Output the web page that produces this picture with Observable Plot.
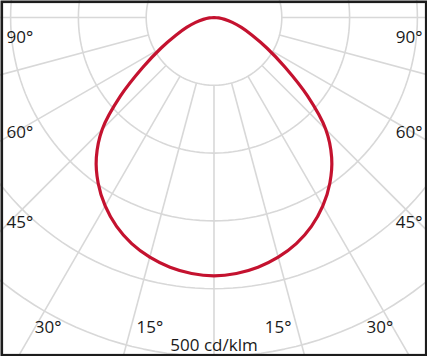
<!DOCTYPE html>
<html><head><meta charset="utf-8">
<script src="https://cdn.jsdelivr.net/npm/d3@7"></script>
<script src="https://cdn.jsdelivr.net/npm/@observablehq/plot@0.6"></script>
<style>
html,body{margin:0;padding:0;background:#fff;}
#chart svg{display:block;}
</style></head><body><div id="chart"></div>
<script>
// Luminous intensity distribution (cd/klm) by angle from nadir (symmetric)
const angles    = [0, 5, 10, 15, 20, 25, 30, 35, 40, 45, 50, 55, 60, 65, 70, 75, 80, 85, 90];
const intensity = [381, 379, 374, 366, 355, 340, 321, 298, 270, 233, 180, 128, 90, 62, 43, 28, 16, 7, 0];
const ringValues = [100, 200, 300, 400, 500, 600];
const rayAngles = [-90, -75, -60, -45, -30, -15, 0, 15, 30, 45, 60, 75, 90];
const sideLabelAngles = [90, 60, 45];
const bottomLabelAngles = [30, 15];
const unitLabel = "500 cd/klm";

const W = 427, H = 356;
const K = 0.678;           // pixels per cd/klm
const cx = 213.5, cy = 17; // pole position
const rad = d => d * Math.PI / 180;

// curve table (mirrored)
const curve = [];
for (let i = angles.length - 1; i >= 0; i--) curve.push({a: -angles[i], r: intensity[i]});
for (let i = 1; i < angles.length; i++) curve.push({a: angles[i], r: intensity[i]});

// grid
const rings = ringValues.flatMap(r => d3.range(0, 361, 2).map(t => ({r, t})));
const rays = rayAngles.map(a => ({a, r1: ringValues[0], r2: 700}));

// labels
const deg = a => a + "\u00b0";
const halfW = cx / K;
const side = sideLabelAngles.map(a => {
  const edge = a === 90 ? 0 : halfW / Math.tan(rad(a));
  return {a, y: edge + (a === 90 ? 25 : -3) / K};
});
const nudge = {15: 18.4, 30: 11.9};
const rowY = (332 - cy) / K;
const bottom = bottomLabelAngles.flatMap(a => [-1, 1].map(s => ({
  a, x: s * (Math.tan(rad(a)) * (325 - cy) - nudge[a]) / K
})));

const chart = Plot.plot({
  width: W, height: H,
  margin: 0,
  x: {domain: [-cx / K, (W - cx) / K], range: [0, W], axis: null},
  y: {domain: [-cy / K, (H - cy) / K], range: [0, H], axis: null},
  style: {fontFamily: "'Open Sans', sans-serif", background: "#fff"},
  marks: [
    Plot.line(rings, {
      x: d => d.r * Math.sin(rad(d.t)), y: d => d.r * Math.cos(rad(d.t)), z: "r",
      stroke: "#d8d8d8", strokeWidth: 1.6, clip: true
    }),
    Plot.link(rays, {
      x1: d => d.r1 * Math.sin(rad(d.a)), y1: d => d.r1 * Math.cos(rad(d.a)),
      x2: d => d.r2 * Math.sin(rad(d.a)), y2: d => d.r2 * Math.cos(rad(d.a)),
      stroke: "#d8d8d8", strokeWidth: 1.6, clip: true
    }),
    Plot.line(curve, {
      x: d => d.r * Math.sin(rad(d.a)), y: d => d.r * Math.cos(rad(d.a)),
      curve: "catmull-rom", stroke: "#c4122f", strokeWidth: 3.2
    }),
    Plot.text(side, {
      x: -halfW + 6 / K, y: "y", text: d => deg(d.a),
      textAnchor: "start", lineAnchor: "bottom", fontSize: 17, fill: "#1a1a1a"
    }),
    Plot.text(side, {
      x: (W - cx) / K - 5 / K, y: "y", text: d => deg(d.a),
      textAnchor: "end", lineAnchor: "bottom", fontSize: 17, fill: "#1a1a1a"
    }),
    Plot.text(bottom, {
      x: "x", y: rowY, text: d => deg(d.a),
      textAnchor: "middle", lineAnchor: "bottom", fontSize: 17, fill: "#1a1a1a"
    }),
    Plot.text([unitLabel], {
      x: 0, y: (350 - cy) / K, text: d => d,
      textAnchor: "middle", lineAnchor: "bottom", fontSize: 17, fill: "#1a1a1a"
    }),
    Plot.frame({stroke: "#1c1c1c", strokeWidth: 2.6, inset: 1.3})
  ]
});
document.getElementById("chart").appendChild(chart);
</script></body></html>
